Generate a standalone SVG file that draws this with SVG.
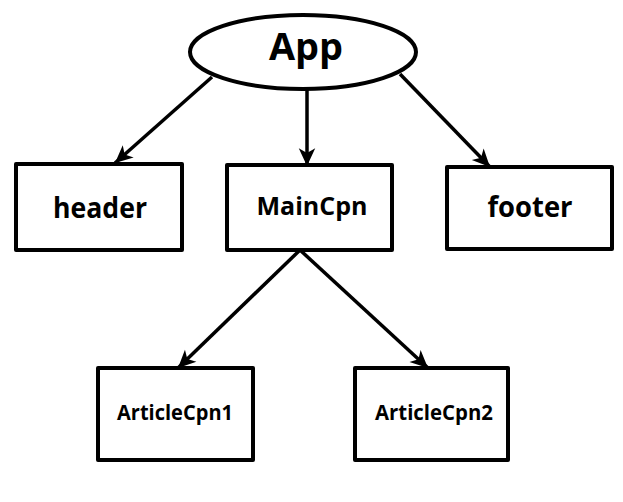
<svg xmlns="http://www.w3.org/2000/svg" width="623" height="502" viewBox="0 0 623 502">
<style>
  .node { fill: #fff; stroke: #000; stroke-width: 4; stroke-linejoin: round; }
  .lbl { font-family: "Open Sans", "Liberation Sans", Arial, sans-serif; font-weight: bold; fill: #000; text-anchor: middle; }
  .edge { fill: none; stroke: #000; stroke-width: 3.5; }
</style>
<defs>
  <marker id="arr" markerUnits="userSpaceOnUse" markerWidth="20" markerHeight="20" viewBox="-1 -8 17 16" refX="15" refY="0" orient="auto">
    <path d="M15,0 L0,-7 L4,0 L0,7 Z" fill="#000"/>
  </marker>
</defs>
<rect width="623" height="502" fill="#fff"/>
<g id="connectors">
  <line class="edge" x1="212" y1="77" x2="115" y2="163" marker-end="url(#arr)"/>
  <line class="edge" x1="307" y1="89" x2="307" y2="166" marker-end="url(#arr)"/>
  <line class="edge" x1="400" y1="74" x2="490" y2="167" marker-end="url(#arr)"/>
  <line class="edge" x1="300" y1="250" x2="178" y2="368" marker-end="url(#arr)"/>
  <line class="edge" x1="300" y1="250" x2="428" y2="368" marker-end="url(#arr)"/>
</g>
<g id="app">
  <ellipse class="node" cx="303" cy="52" rx="113" ry="37"/>
  <text class="lbl" x="306" y="60" font-size="38" textLength="74" lengthAdjust="spacingAndGlyphs">App</text>
</g>
<g id="header">
  <rect class="node" x="16" y="164" width="166" height="86"/>
  <text class="lbl" x="100" y="218" font-size="29" textLength="94" lengthAdjust="spacingAndGlyphs">header</text>
</g>
<g id="maincpn">
  <rect class="node" x="227" y="165" width="165" height="85"/>
  <text class="lbl" x="312" y="215" font-size="25" textLength="111" lengthAdjust="spacingAndGlyphs">MainCpn</text>
</g>
<g id="footer">
  <rect class="node" x="447" y="167" width="165" height="82"/>
  <text class="lbl" x="530" y="217" font-size="29" textLength="85" lengthAdjust="spacingAndGlyphs">footer</text>
</g>
<g id="articlecpn1">
  <rect class="node" x="98" y="368" width="155" height="92"/>
  <text class="lbl" x="175" y="420" font-size="21" textLength="116" lengthAdjust="spacingAndGlyphs">ArticleCpn1</text>
</g>
<g id="articlecpn2">
  <rect class="node" x="355" y="368" width="153" height="92"/>
  <text class="lbl" x="434" y="420" font-size="21" textLength="118" lengthAdjust="spacingAndGlyphs">ArticleCpn2</text>
</g>
</svg>
